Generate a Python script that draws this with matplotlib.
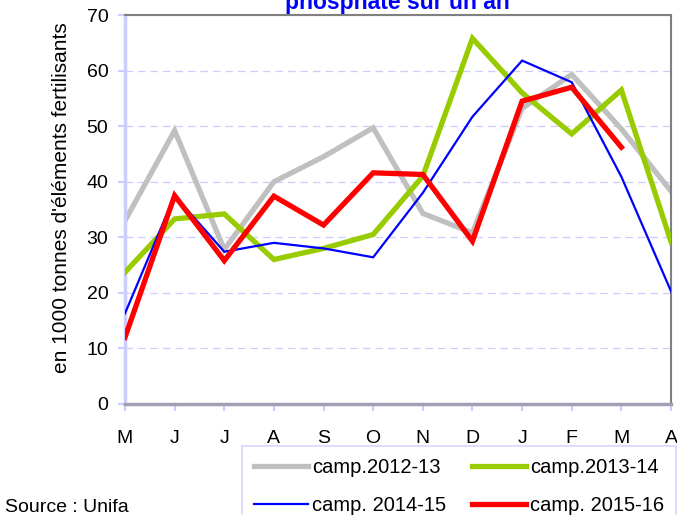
import matplotlib
matplotlib.use("Agg")
import matplotlib.pyplot as plt
from matplotlib.lines import Line2D

plt.rcParams['font.family'] = ['Liberation Sans', 'DejaVu Sans']

months = ["M", "J", "J", "A", "S", "O", "N", "D", "J", "F", "M", "A"]
camp_2012_13 = [33.0, 49.2, 27.8, 40.0, 44.5, 49.7, 34.3, 30.8, 53.2, 59.3, 49.5, 38.3]
camp_2013_14 = [23.7, 33.3, 34.2, 26.0, 28.0, 30.5, 41.0, 65.8, 56.0, 48.6, 56.5, 29.2]
camp_2014_15 = [16.3, 37.5, 27.4, 29.0, 28.0, 26.4, 38.0, 51.7, 61.8, 57.9, 40.9, 20.3]
camp_2015_16 = [12.0, 37.5, 25.8, 37.4, 32.2, 41.6, 41.3, 29.3, 54.5, 57.0, 46.2]
labels = ["camp.2012-13", "camp.2013-14", "camp. 2014-15", "camp. 2015-16"]

fig = plt.figure(figsize=(6.77, 5.15), dpi=100)
W, H = 677, 515
ax = fig.add_axes([125 / W, 1 - 404 / H, (671 - 125) / W, (404 - 15) / H])

x = list(range(len(months)))
ax.plot(x, camp_2012_13, color="#c0c0c0", lw=3.8, solid_joinstyle="miter", zorder=2)
ax.plot(x, camp_2013_14, color="#99cc00", lw=3.8, solid_joinstyle="miter", zorder=3)
ax.plot(x, camp_2014_15, color="#0000ff", lw=1.6, solid_joinstyle="miter", zorder=4)
ax.plot(list(range(len(camp_2015_16))), camp_2015_16, color="#ff0000", lw=3.8,
        solid_joinstyle="miter", zorder=5)

ax.set_xlim(0, len(months) - 1)
ax.set_ylim(0, 70)
ax.set_yticks(range(0, 71, 10))
ax.set_xticks(x)
ax.set_xticklabels(months)
ax.tick_params(axis="both", labelsize=14, colors="#ccccff", labelcolor="black",
               length=5, width=1.5)
ax.tick_params(axis="x", pad=14)
ax.tick_params(axis="y", pad=7)

ax.grid(axis="y", color="#ccccff", linestyle=(0, (6, 4)), linewidth=0.9)
ax.set_axisbelow(True)

ax.spines["left"].set_color("#ccccff")
ax.spines["left"].set_linewidth(2.5)
ax.spines["bottom"].set_color("#a0a0b4")
ax.spines["bottom"].set_linewidth(2.5)
ax.spines["top"].set_color("#808080")
ax.spines["top"].set_linewidth(1.5)
ax.spines["right"].set_color("#808080")
ax.spines["right"].set_linewidth(1.5)
for s in ax.spines.values():
    s.set_clip_on(False)

fig.text(62 / W, 1 - 198 / H, "en 1000 tonnes d'éléments fertilisants", rotation=90,
         ha="center", va="center", fontsize=15)

fig.text(397 / W, 1 - 9 / H, "phosphate sur un an", ha="center", va="baseline",
         fontsize=16.5, fontweight="bold", color="#0000ff")

fig.text(5 / W, 1 - 507 / H, "Source : Unifa", ha="left", va="center", fontsize=14)

handles = [
    Line2D([], [], color="#c0c0c0", lw=3.8),
    Line2D([], [], color="#99cc00", lw=3.8),
    Line2D([], [], color="#0000ff", lw=1.6),
    Line2D([], [], color="#ff0000", lw=3.8),
]
order = [0, 2, 1, 3]
leg = fig.legend([handles[i] for i in order], [labels[i] for i in order], ncol=2,
                 loc="upper left", bbox_to_anchor=(242 / W, 1 - 446 / H),
                 frameon=True, fancybox=False, fontsize=14.5, handlelength=2.7,
                 handletextpad=0.2, columnspacing=1.25, labelspacing=0.95,
                 borderpad=0.6, borderaxespad=0)
leg.get_frame().set_edgecolor("#ccccff")
leg.get_frame().set_linewidth(1.2)

fig.savefig("out.png", dpi=100)
